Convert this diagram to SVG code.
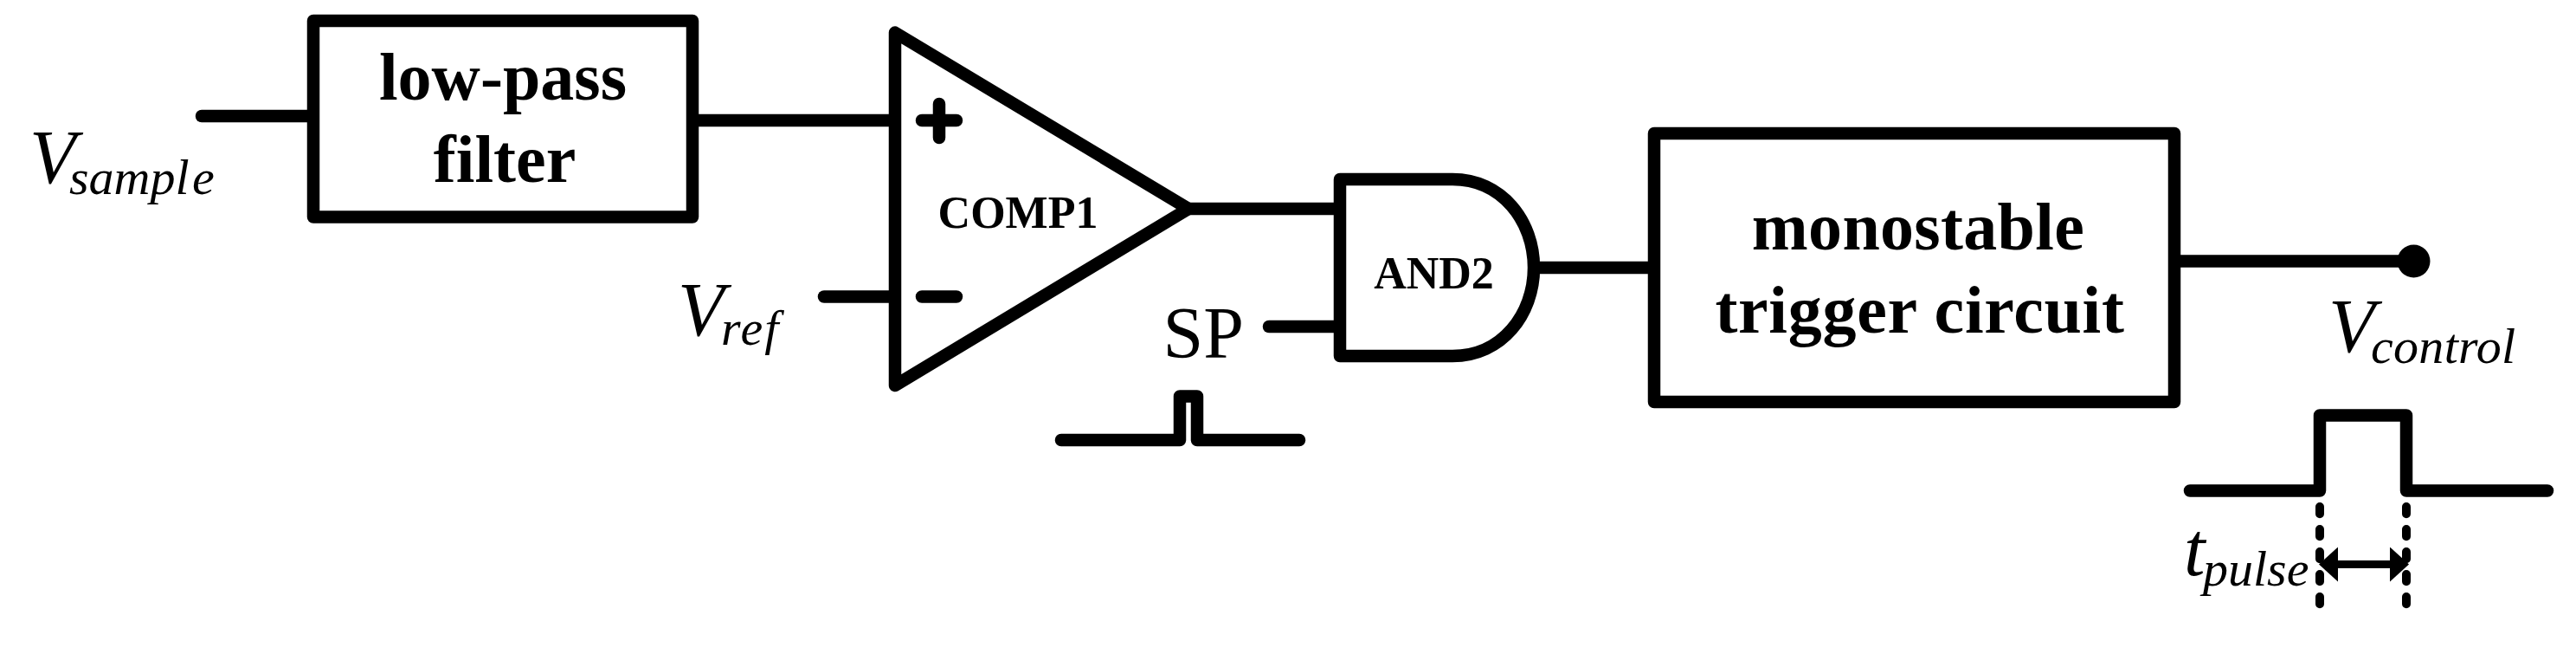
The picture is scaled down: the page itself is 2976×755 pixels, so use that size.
<svg xmlns="http://www.w3.org/2000/svg" width="2976" height="755" viewBox="0 0 2976 755">
<style>
.s{fill:none;stroke:#000;stroke-width:14.500;stroke-linejoin:round;stroke-linecap:round}
.n{fill:#fff;stroke:#000;stroke-width:14.500;stroke-linejoin:round}
.b{font-family:"Liberation Serif",serif;font-weight:bold;fill:#000;text-anchor:middle}
.i{font-family:"Liberation Serif",serif;font-style:italic;fill:#000}
.v{font-size:88px}
.u{font-size:58px}
.d{fill:none;stroke:#000;stroke-width:10;stroke-linecap:round;stroke-dasharray:8.3 17.7}
</style>
<defs>
<marker id="ah" markerUnits="userSpaceOnUse" markerWidth="22" markerHeight="40" refX="14" refY="20" orient="auto-start-reverse" viewBox="0 0 22 40"><path d="M0 0L22 20L0 40Z" fill="#000"/></marker>
</defs>
<rect width="2976" height="755" fill="#fff"/>
<g id="connectors">
<path class="s" d="M233 134H355"/>
<path class="s" d="M806 139H1034"/>
<path class="s" d="M952 342.5H1034"/>
<path class="s" d="M1373 241H1548"/>
<path class="s" d="M1466 377H1548"/>
<path class="s" d="M1772 309H1911"/>
<path class="s" d="M2512 301.500H2789"/>
</g>
<g id="low-pass-filter">
<rect class="n" x="362" y="24" width="438" height="226.500"/>
<text class="b" font-size="78"><tspan x="581" y="115">low-pass</tspan><tspan x="583" y="210">filter</tspan></text>
</g>
<g id="comp1">
<path class="n" d="M1034 37.600L1373 241L1034 445Z"/>
<path class="s" d="M1065 139H1105M1085 120V159M1065 342.500H1105"/>
<text class="b" font-size="52" x="1176" y="263">COMP1</text>
</g>
<g id="and2">
<path class="n" d="M1548 207H1678C1735 207 1772 255 1772 309S1735 411 1678 411H1548Z"/>
<text class="b" font-size="52" x="1656.500" y="333">AND2</text>
</g>
<g id="monostable-trigger-circuit">
<rect class="n" x="1911" y="154" width="601" height="310"/>
<text class="b" font-size="78"><tspan x="2216" y="288" letter-spacing=".3">monostable</tspan><tspan x="2218" y="384" letter-spacing=".7">trigger circuit</tspan></text>
</g>
<g id="v-sample">
<text class="i"><tspan class="v" x="34" y="211">V</tspan><tspan class="u" x="80" y="224">sampl</tspan><tspan class="u" x="222" y="224">e</tspan></text>
</g>
<g id="v-ref">
<text class="i"><tspan class="v" x="783" y="386.500">V</tspan><tspan class="u" x="833" y="398" letter-spacing="2">ref</tspan></text>
</g>
<g id="sp">
<text x="1343.500" y="413" font-family="'Liberation Serif',serif" font-size="84" fill="#000">SP</text>
<path class="s" d="M1226 508H1363V457.500H1383V508H1501"/>
</g>
<g id="v-control">
<circle cx="2788.500" cy="301.500" r="19" fill="#000"/>
<text class="i"><tspan class="v" x="2690" y="405.500">V</tspan><tspan class="u" x="2739" y="419" letter-spacing=".3">control</tspan></text>
</g>
<g id="t-pulse">
<path class="s" d="M2530 566.500H2680V479.500H2780V566.500H2943"/>
<path class="d" d="M2680 585V699"/>
<path class="d" d="M2780 585V699"/>
<path d="M2687 651.500H2775" fill="none" stroke="#000" stroke-width="9" marker-start="url(#ah)" marker-end="url(#ah)"/>
<text class="i"><tspan font-size="88" x="2523" y="664">t</tspan><tspan class="u" x="2545" y="676">pulse</tspan></text>
</g>
</svg>
